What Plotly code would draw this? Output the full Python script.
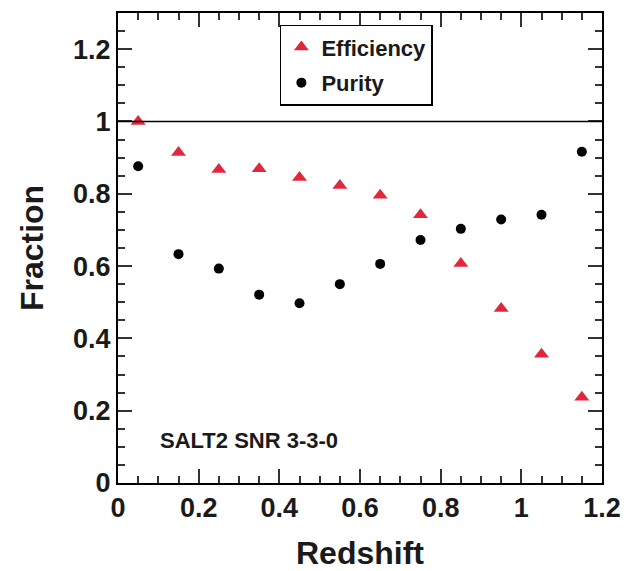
import plotly.graph_objects as go

redshift = [0.05, 0.15, 0.25, 0.35, 0.45, 0.55, 0.65, 0.75, 0.85, 0.95, 1.05, 1.15]
efficiency = [1.0, 0.914, 0.867, 0.869, 0.845, 0.823, 0.796, 0.742, 0.607, 0.483, 0.356, 0.237]
purity = [0.876, 0.633, 0.593, 0.521, 0.497, 0.550, 0.606, 0.672, 0.703, 0.729, 0.742, 0.916]
reference_level = 1.0
x_ticks = [0, 0.2, 0.4, 0.6, 0.8, 1, 1.2]
x_tick_labels = ["0", "0.2", "0.4", "0.6", "0.8", "1", "1.2"]
y_ticks = [0, 0.2, 0.4, 0.6, 0.8, 1, 1.2]
y_tick_labels = ["0", "0.2", "0.4", "0.6", "0.8", "1", "1.2"]
label_text = "SALT2 SNR 3-3-0"

FONT = "Liberation Sans, Arial, Helvetica, sans-serif"
RED = "#e0283c"

fig = go.Figure()
fig.add_trace(go.Scatter(
    x=redshift, y=efficiency, mode="markers", name="Efficiency",
    legendgroup="a",
    marker=dict(symbol="triangle-up", size=13, color=RED, line=dict(width=0)),
))
fig.add_trace(go.Scatter(
    x=redshift, y=purity, mode="markers", name="Purity",
    legendgroup="b",
    marker=dict(symbol="circle", size=10, color="black", line=dict(width=0)),
))

fig.add_shape(type="line", xref="x", yref="y", x0=0, x1=1.2,
              y0=reference_level, y1=reference_level,
              line=dict(color="black", width=1.5))

fig.add_annotation(x=0.1, y=0.118, xref="x", yref="y", text=label_text,
                   showarrow=False, xanchor="left", yanchor="middle",
                   font=dict(family=FONT, size=22, color="#1a1a1a", weight="bold"))

axis_common = dict(
    showgrid=False, zeroline=False, showline=True, linecolor="black", linewidth=2,
    mirror="allticks", ticks="inside", ticklen=14, tickwidth=2, tickcolor="#333",
    tickfont=dict(family=FONT, size=27, color="#1a1a1a", weight="bold"),
    automargin=False,
)

fig.update_layout(
    width=631, height=571,
    margin=dict(l=118, r=29, t=13, b=88),
    paper_bgcolor="white", plot_bgcolor="white",
    showlegend=True,
    legend=dict(x=0.3345, y=0.975, xanchor="left", yanchor="top",
                bordercolor="black", borderwidth=1.5, bgcolor="white",
                tracegroupgap=4,
                font=dict(family=FONT, size=22, color="#1a1a1a", weight="bold")),
    xaxis=dict(range=[0, 1.2], tickvals=x_ticks, ticktext=x_tick_labels,
               minor=dict(dtick=0.05, ticks="inside", ticklen=7, tickwidth=2, tickcolor="#333"),
               title=dict(text="Redshift", standoff=24,
                          font=dict(family=FONT, size=32, color="#1a1a1a", weight="bold")),
               **axis_common),
    yaxis=dict(range=[0, 1.3], tickvals=y_ticks, ticktext=y_tick_labels,
               minor=dict(dtick=0.05, ticks="inside", ticklen=7, tickwidth=2, tickcolor="#333"),
               title=dict(text="Fraction", standoff=20,
                          font=dict(family=FONT, size=32, color="#1a1a1a", weight="bold")),
               **axis_common),
)

fig.write_html("out.html")
